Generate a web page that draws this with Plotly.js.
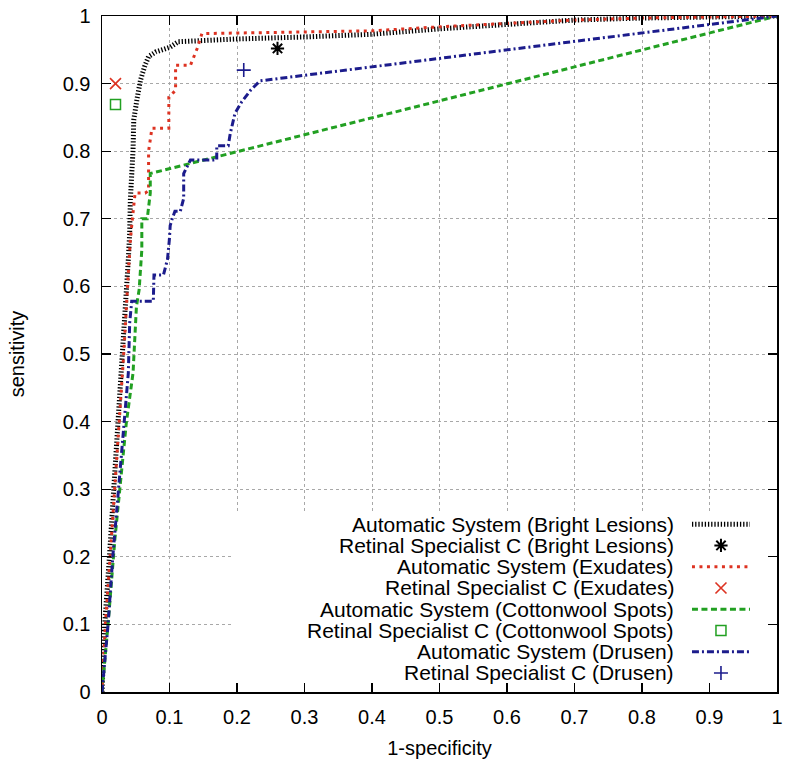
<!DOCTYPE html>
<html>
<head>
<meta charset="utf-8">
<script src="https://cdn.plot.ly/plotly-3.0.1.min.js"></script>
<style>html,body{margin:0;padding:0;background:#fff}#chart{width:800px;height:768px}</style>
</head>
<body>
<div id="chart"></div>
<script>
// ---- data (1-specificity, sensitivity) ----
const brightX = [0, 0.004, 0.011, 0.021, 0.031, 0.039, 0.041, 0.042, 0.046, 0.047, 0.052, 0.057, 0.063, 0.069, 0.08, 0.09, 0.101, 0.113, 0.15, 0.2, 0.3, 0.4, 0.5, 0.6, 0.7, 0.8, 0.9, 1];
const brightY = [0, 0.1, 0.2, 0.349, 0.497, 0.64, 0.679, 0.728, 0.802, 0.846, 0.878, 0.905, 0.925, 0.94, 0.947, 0.951, 0.954, 0.962, 0.964, 0.966, 0.969, 0.973, 0.981, 0.988, 0.994, 0.997, 0.999, 1];

const exudX = [0, 0.005, 0.012, 0.022, 0.032, 0.039, 0.042, 0.045, 0.049, 0.064, 0.069, 0.069, 0.074, 0.099, 0.099, 0.109, 0.109, 0.131, 0.141, 0.148, 0.2, 0.3, 0.4, 0.5, 0.6, 0.7, 0.8, 0.9, 1];
const exudY = [0, 0.1, 0.2, 0.349, 0.497, 0.62, 0.669, 0.7, 0.738, 0.738, 0.742, 0.8, 0.834, 0.834, 0.88, 0.89, 0.927, 0.927, 0.952, 0.974, 0.975, 0.976, 0.978, 0.984, 0.989, 0.994, 0.997, 0.999, 1];

const cottonX = [0, 0.009, 0.019, 0.029, 0.036, 0.046, 0.051, 0.055, 0.059, 0.059, 0.067, 0.0715, 0.0715, 1];
const cottonY = [0, 0.1, 0.225, 0.324, 0.398, 0.472, 0.57, 0.595, 0.654, 0.70, 0.70, 0.738, 0.767, 1];

const drusenX = [0, 0.009, 0.016, 0.024, 0.031, 0.039, 0.041, 0.044, 0.076, 0.077, 0.091, 0.097, 0.0998, 0.101, 0.104, 0.108, 0.116, 0.121, 0.121, 0.131, 0.170, 0.170, 0.187, 0.19, 0.197, 0.207, 0.22, 0.234, 1];
const drusenY = [0, 0.1, 0.2, 0.299, 0.373, 0.472, 0.546, 0.578, 0.578, 0.617, 0.617, 0.64, 0.669, 0.69, 0.70, 0.711, 0.711, 0.73, 0.767, 0.787, 0.787, 0.808, 0.808, 0.826, 0.856, 0.873, 0.89, 0.904, 1];

// Retinal Specialist C operating points
const specX = [0.26, 0.02, 0.02, 0.21];
const specY = [0.952, 0.9, 0.869, 0.92];

const legendLabels = [
  "Automatic System (Bright Lesions)",
  "Retinal Specialist C (Bright Lesions)",
  "Automatic System (Exudates)",
  "Retinal Specialist C (Exudates)",
  "Automatic System (Cottonwool Spots)",
  "Retinal Specialist C (Cottonwool Spots)",
  "Automatic System (Drusen)",
  "Retinal Specialist C (Drusen)"
];
const xTicks = [0, 0.1, 0.2, 0.3, 0.4, 0.5, 0.6, 0.7, 0.8, 0.9, 1];

// ---- styles ----
const BLACK = "#000000", RED = "#dd3322", GREEN = "#22a022", BLUE = "#1c1c8c";
const lineStyles = [
  {color: BLACK, width: 5, dash: "1.3px,1.9px"},
  {color: RED, width: 3, dash: "3px,4.5px"},
  {color: GREEN, width: 3, dash: "6px,3.5px"},
  {color: BLUE, width: 3, dash: "7px,3px,2px,3px"}
];
const markerStyles = [
  {symbol: "asterisk-open", size: 11, color: BLACK, line: {color: BLACK, width: 2}},
  {symbol: "x-thin-open", size: 11, color: RED, line: {color: RED, width: 1.6}},
  {symbol: "square-open", size: 10, color: GREEN, line: {color: GREEN, width: 1.5}},
  {symbol: "cross-thin-open", size: 10, color: BLUE, line: {color: BLUE, width: 1.6}}
];

const curves = [[brightX, brightY], [exudX, exudY], [cottonX, cottonY], [drusenX, drusenY]];
const traces = [];
curves.forEach((c, i) => {
  traces.push({x: c[0], y: c[1], type: "scatter", mode: "lines", line: lineStyles[i],
    showlegend: false, hoverinfo: "skip", xaxis: "x", yaxis: "y"});
});
specX.forEach((sx, i) => {
  traces.push({x: [sx], y: [specY[i]], type: "scatter", mode: "markers", marker: markerStyles[i],
    showlegend: false, cliponaxis: false, hoverinfo: "skip", xaxis: "x", yaxis: "y"});
});
// custom legend samples (right-hand side, gnuplot style) on a small auxiliary subplot
for (let i = 0; i < 4; i++) {
  traces.push({x: [0, 1], y: [2 * i + 1, 2 * i + 1], type: "scatter", mode: "lines", line: lineStyles[i],
    showlegend: false, hoverinfo: "skip", xaxis: "x2", yaxis: "y2"});
  traces.push({x: [0.5], y: [2 * i + 2], type: "scatter", mode: "markers", marker: markerStyles[i],
    showlegend: false, cliponaxis: false, hoverinfo: "skip", xaxis: "x2", yaxis: "y2"});
}

const FONT = "Liberation Sans, Arial, Helvetica, sans-serif";
const annotations = legendLabels.map((t, i) => ({
  text: t, xref: "paper", yref: "y2", x: 0.8504, y: i + 1, xanchor: "right", yanchor: "middle",
  showarrow: false, font: {family: FONT, size: 21, color: "#000"}
}));

const axisCommon = {
  range: [0, 1], dtick: 0.1, tick0: 0, ticks: "inside", ticklen: 9, tickwidth: 1.2, tickcolor: "#000",
  showline: true, linecolor: "#000", linewidth: 1.5, mirror: "allticks",
  showgrid: true, gridcolor: "#a8a8a8", gridwidth: 1, griddash: "dot",
  zeroline: false, tickfont: {family: FONT, size: 20, color: "#000"}, fixedrange: true
};

const layout = {
  width: 800, height: 768,
  margin: {l: 102, r: 23, t: 16, b: 76},
  paper_bgcolor: "#ffffff", plot_bgcolor: "rgba(0,0,0,0)",
  showlegend: false,
  xaxis: Object.assign({}, axisCommon, {
    tickvals: xTicks, ticktext: xTicks.map(String),
    ticklabelstandoff: 6,
    title: {text: "1-specificity", font: {family: FONT, size: 20, color: "#000"}, standoff: 14}
  }),
  yaxis: Object.assign({}, axisCommon, {
    tickvals: xTicks, ticktext: xTicks.map(String),
    ticklabelstandoff: 6,
    title: {text: "sensitivity", font: {family: FONT, size: 20, color: "#000"}, standoff: 32}
  }),
  xaxis2: {domain: [0.874, 0.960], range: [0, 1], anchor: "y2", visible: false, fixedrange: true},
  yaxis2: {domain: [0.0124, 0.264], range: [8.5, 0.5], anchor: "x2", visible: false, fixedrange: true},
  shapes: [{type: "rect", xref: "x", yref: "y", x0: 0.193, x1: 0.998, y0: 0.002, y1: 0.265,
    fillcolor: "#ffffff", line: {width: 0}, layer: "between"}],
  annotations: annotations
};

Plotly.newPlot("chart", traces, layout, {staticPlot: true, displayModeBar: false});
</script>
</body>
</html>
